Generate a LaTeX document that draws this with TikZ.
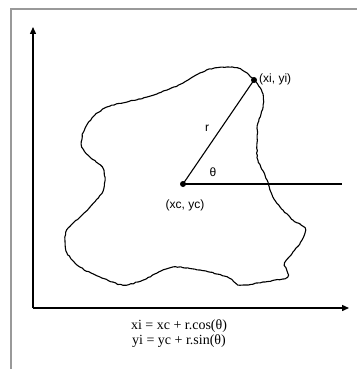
\documentclass[tikz,border=0pt]{standalone}
\usepackage{fontspec}
\setmainfont{Liberation Serif}
\newfontfamily\labfont{Liberation Sans}
\usetikzlibrary{arrows.meta,decorations.pathmorphing}
\begin{document}
\begin{tikzpicture}[x=1pt,y=-1pt,
  axis/.style={line width=1.4pt,-{Triangle[length=7pt,width=6pt]}},
  blob/.style={line width=1.1pt,line join=round,decorate,decoration={random steps,segment length=2.5pt,amplitude=0.45pt}},
  dot/.style={circle,fill=black,inner sep=0pt,minimum size=6pt},
  lab/.style={font=\labfont\fontsize{12}{14}\selectfont,inner sep=1pt},
  formula/.style={font=\fontsize{14}{17}\selectfont,inner sep=0pt,align=center}]
\pgfmathsetseed{7}
\useasboundingbox (0,0) rectangle (356,369);
\draw[gray!80,line width=1.6pt] (11,375) -- (11,9) -- (362,9);
\coordinate (origin) at (33,308);
\coordinate (ytip) at (33,27);
\coordinate (xtip) at (349,308);
\draw[axis] (origin) -- (ytip);
\draw[axis] (origin) -- (xtip);
\draw[blob] plot[smooth cycle,tension=0.5] coordinates {
(215,68) (238,68) (254,80) (262,92) (263,107) (258,123) (257,143) (258,160)
(267,180) (273,197) (283,210) (293,220) (305,228) (302,240) (293,252) (285,263)
(287,277) (263,282) (240,285) (227,277) (200,270) (173,267) (157,273) (143,280)
(123,285) (100,277) (80,267) (67,253) (65,240) (67,230) (80,217) (90,207)
(102,193) (105,180) (102,167) (90,157) (82,147) (83,133) (93,117) (107,107)
(127,102) (147,97) (167,90) (183,83) (200,73)};
\node[dot] (c) at (183,184) {};
\node[dot] (p) at (254,80) {};
\coordinate (hend) at (342,184);
\draw[line width=1.1pt] (c.center) -- (p.center);
\draw[line width=1.1pt] (c.center) -- (hend);
\node[lab,anchor=west] (plab) at (258,79) {(xi, yi)};
\node[lab] (clab) at (185,205) {(xc, yc)};
\node[lab] (rlab) at (207,128) {r};
\node[lab] (tlab) at (213,172) {θ};
\node[formula] (f) at (179,334) {xi = xc + r.cos(θ)\\[-2pt] yi = yc + r.sin(θ)};
\end{tikzpicture}
\end{document}
